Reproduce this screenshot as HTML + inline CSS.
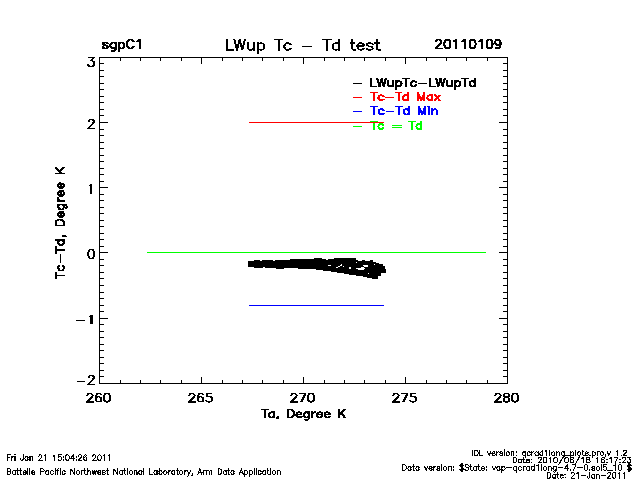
<!DOCTYPE html>
<html><head><meta charset="utf-8"><title>LWup Tc - Td test</title>
<style>
html,body{margin:0;padding:0;background:#fff;}
body{width:640px;height:480px;overflow:hidden;font-family:"Liberation Sans",sans-serif;}
svg{display:block;}
#gl path{vector-effect:non-scaling-stroke;}
</style></head><body>
<svg width="640" height="480" viewBox="0 0 640 480">
<rect width="640" height="480" fill="#fff"/>
<defs><g id="gl" fill="none" stroke-linecap="square" stroke-linejoin="round">
<path id="g36" d="M8 -25 8 4M12 -25 12 4M17 -18 15 -20 12 -21 8 -21 5 -20 3 -18 3 -16 4 -14 5 -13 7 -12 13 -10 15 -9 16 -8 17 -6 17 -3 15 -1 12 0 8 0 5 -1 3 -3"/>
<path id="g44" d="M4 4 5 3 6 1 6 -1 5 -2 4 -1 5 0 6 -1"/>
<path id="g45" d="M4 -9 22 -9"/>
<path id="g46" d="M5 0 4 -1 5 -2 6 -1 5 0"/>
<path id="g47" d="M2 7 16 -18M7 -2 20 -25"/>
<path id="g48" d="M9 0 6 -1 4 -4 3 -9 3 -12 4 -17 6 -20 9 -21 11 -21 14 -20 16 -17 17 -12 17 -9 16 -4 14 -1 11 0 9 0"/>
<path id="g49" d="M6 -17 8 -18 11 -21 11 0"/>
<path id="g50" d="M17 0 3 0 13 -10 15 -13 16 -15 16 -17 15 -19 14 -20 12 -21 8 -21 6 -20 5 -19 4 -17 4 -16"/>
<path id="g51" d="M5 -21 16 -21 10 -13 13 -13 15 -12 16 -11 17 -8 17 -6 16 -3 14 -1 11 0 8 0 5 -1 4 -2 3 -4"/>
<path id="g52" d="M18 -7 3 -7 13 -21 13 0"/>
<path id="g53" d="M3 -4 4 -2 5 -1 8 0 11 0 14 -1 16 -3 17 -6 17 -8 16 -11 14 -13 11 -14 8 -14 5 -13 4 -12 5 -21 15 -21"/>
<path id="g54" d="M4 -7 5 -10 7 -12 10 -13 11 -13 14 -12 16 -10 17 -7 17 -6 16 -3 14 -1 11 0 10 0 7 -1 5 -3 4 -7 4 -12 5 -17 7 -20 10 -21 12 -21 15 -20 16 -18"/>
<path id="g55" d="M7 0 17 -21 3 -21"/>
<path id="g56" d="M15 -1 12 0 8 0 5 -1 4 -2 3 -4 3 -7 4 -9 6 -11 9 -12 13 -13 15 -14 16 -16 16 -18 15 -20 12 -21 8 -21 5 -20 4 -18 4 -16 5 -14 7 -13 11 -12 14 -11 16 -9 17 -7 17 -4 16 -2 15 -1"/>
<path id="g57" d="M4 -3 5 -1 8 0 10 0 13 -1 15 -4 16 -9 16 -14 15 -18 13 -20 10 -21 9 -21 6 -20 4 -18 3 -15 3 -14 4 -11 6 -9 9 -8 10 -8 13 -9 15 -11 16 -14"/>
<path id="g58" d="M5 -12 4 -13 5 -14 6 -13 5 -12M5 0 4 -1 5 -2 6 -1 5 0"/>
<path id="g61" d="M4 -12 22 -12M4 -6 22 -6"/>
<path id="g65" d="M1 0 9 -21 17 0M4 -7 14 -7"/>
<path id="g66" d="M4 -11 13 -11 16 -12 17 -13 18 -15 18 -17 17 -19 16 -20 13 -21 4 -21 4 0 13 0 16 -1 17 -2 18 -4 18 -7 17 -9 16 -10 13 -11"/>
<path id="g67" d="M18 -16 17 -18 15 -20 13 -21 9 -21 7 -20 5 -18 4 -16 3 -13 3 -8 4 -5 5 -3 7 -1 9 0 13 0 15 -1 17 -3 18 -5"/>
<path id="g68" d="M17 -5 18 -8 18 -13 17 -16 16 -18 14 -20 11 -21 4 -21 4 0 11 0 14 -1 16 -3 17 -5"/>
<path id="g70" d="M17 -21 4 -21 4 0M4 -11 12 -11"/>
<path id="g73" d="M4 -21 4 0"/>
<path id="g74" d="M12 -21 12 -5 11 -2 10 -1 8 0 6 0 4 -1 3 -2 2 -5 2 -7"/>
<path id="g75" d="M4 -21 4 0M4 -7 18 -21M9 -12 18 0"/>
<path id="g76" d="M4 -21 4 0 16 0"/>
<path id="g77" d="M4 0 4 -21 12 0 20 -21 20 0"/>
<path id="g78" d="M4 0 4 -21 18 0 18 -21"/>
<path id="g80" d="M4 -10 13 -10 16 -11 17 -12 18 -14 18 -17 17 -19 16 -20 13 -21 4 -21 4 0"/>
<path id="g83" d="M17 -18 15 -20 12 -21 8 -21 5 -20 3 -18 3 -16 4 -14 5 -13 7 -12 13 -10 15 -9 16 -8 17 -6 17 -3 15 -1 12 0 8 0 5 -1 3 -3"/>
<path id="g84" d="M8 -21 8 0M1 -21 15 -21"/>
<path id="g87" d="M2 -21 7 0 12 -21 17 0 22 -21"/>
<path id="g95" d="M1 0 17 0"/>
<path id="g97" d="M15 -14 15 0M15 -3 13 -1 11 0 8 0 6 -1 4 -3 3 -6 3 -8 4 -11 6 -13 8 -14 11 -14 13 -13 15 -11"/>
<path id="g98" d="M4 -21 4 0M4 -11 6 -13 8 -14 11 -14 13 -13 15 -11 16 -8 16 -6 15 -3 13 -1 11 0 8 0 6 -1 4 -3"/>
<path id="g99" d="M15 -3 13 -1 11 0 8 0 6 -1 4 -3 3 -6 3 -8 4 -11 6 -13 8 -14 11 -14 13 -13 15 -11"/>
<path id="g100" d="M15 -21 15 0M15 -3 13 -1 11 0 8 0 6 -1 4 -3 3 -6 3 -8 4 -11 6 -13 8 -14 11 -14 13 -13 15 -11"/>
<path id="g101" d="M13 -13 11 -14 8 -14 6 -13 4 -11 3 -8 15 -8 15 -10 14 -12 13 -13M3 -8 3 -6 4 -3 6 -1 8 0 11 0 13 -1 15 -3"/>
<path id="g102" d="M10 -21 8 -21 6 -20 5 -17 5 0M2 -14 9 -14"/>
<path id="g103" d="M15 -14 15 2 14 5 13 6 11 7 8 7 6 6M15 -3 13 -1 11 0 8 0 6 -1 4 -3 3 -6 3 -8 4 -11 6 -13 8 -14 11 -14 13 -13 15 -11"/>
<path id="g104" d="M4 -21 4 0M4 -10 7 -13 9 -14 12 -14 14 -13 15 -10 15 0"/>
<path id="g105" d="M4 -14 4 0M4 -20 3 -21 4 -22 5 -21 4 -20"/>
<path id="g108" d="M4 -21 4 0"/>
<path id="g109" d="M4 -14 4 0M26 0 26 -10 25 -13 23 -14 20 -14 18 -13 15 -10 15 0M4 -10 7 -13 9 -14 12 -14 14 -13 15 -10"/>
<path id="g110" d="M4 -14 4 0M4 -10 7 -13 9 -14 12 -14 14 -13 15 -10 15 0"/>
<path id="g111" d="M16 -6 15 -3 13 -1 11 0 8 0 6 -1 4 -3 3 -6 3 -8 4 -11 6 -13 8 -14 11 -14 13 -13 15 -11 16 -8 16 -6"/>
<path id="g112" d="M4 -14 4 7M4 -11 6 -13 8 -14 11 -14 13 -13 15 -11 16 -8 16 -6 15 -3 13 -1 11 0 8 0 6 -1 4 -3"/>
<path id="g113" d="M15 -14 15 7M15 -3 13 -1 11 0 8 0 6 -1 4 -3 3 -6 3 -8 4 -11 6 -13 8 -14 11 -14 13 -13 15 -11"/>
<path id="g114" d="M4 -14 4 0M4 -8 5 -11 7 -13 9 -14 12 -14"/>
<path id="g115" d="M14 -11 13 -13 10 -14 7 -14 4 -13 3 -11 4 -9 6 -8 11 -7 13 -6 14 -4 14 -3 13 -1 10 0 7 0 4 -1 3 -3"/>
<path id="g116" d="M5 -21 5 -4 6 -1 8 0 10 0M2 -14 9 -14"/>
<path id="g117" d="M15 -14 15 0M4 -14 4 -4 5 -1 7 0 10 0 12 -1 15 -4"/>
<path id="g118" d="M2 -14 8 0 14 -14"/>
<path id="g119" d="M3 -14 7 0 11 -14 15 0 19 -14"/>
<path id="g120" d="M3 -14 14 0M3 0 14 -14"/>
<path id="g121" d="M2 -14 8 0 14 -14M1 7 2 7 4 6 6 4 8 0"/>
</g></defs>
<g shape-rendering="crispEdges">
<rect x="99" y="57" width="409" height="1" fill="#000"/>
<rect x="99" y="383" width="409" height="1" fill="#000"/>
<rect x="99" y="57" width="1" height="327" fill="#000"/>
<rect x="507" y="57" width="1" height="327" fill="#000"/>
<rect x="99" y="57" width="1" height="7" fill="#000"/>
<rect x="99" y="377" width="1" height="7" fill="#000"/>
<rect x="120" y="57" width="1" height="4" fill="#000"/>
<rect x="120" y="380" width="1" height="4" fill="#000"/>
<rect x="140" y="57" width="1" height="4" fill="#000"/>
<rect x="140" y="380" width="1" height="4" fill="#000"/>
<rect x="160" y="57" width="1" height="4" fill="#000"/>
<rect x="160" y="380" width="1" height="4" fill="#000"/>
<rect x="181" y="57" width="1" height="4" fill="#000"/>
<rect x="181" y="380" width="1" height="4" fill="#000"/>
<rect x="201" y="57" width="1" height="7" fill="#000"/>
<rect x="201" y="377" width="1" height="7" fill="#000"/>
<rect x="222" y="57" width="1" height="4" fill="#000"/>
<rect x="222" y="380" width="1" height="4" fill="#000"/>
<rect x="242" y="57" width="1" height="4" fill="#000"/>
<rect x="242" y="380" width="1" height="4" fill="#000"/>
<rect x="262" y="57" width="1" height="4" fill="#000"/>
<rect x="262" y="380" width="1" height="4" fill="#000"/>
<rect x="283" y="57" width="1" height="4" fill="#000"/>
<rect x="283" y="380" width="1" height="4" fill="#000"/>
<rect x="303" y="57" width="1" height="7" fill="#000"/>
<rect x="303" y="377" width="1" height="7" fill="#000"/>
<rect x="324" y="57" width="1" height="4" fill="#000"/>
<rect x="324" y="380" width="1" height="4" fill="#000"/>
<rect x="344" y="57" width="1" height="4" fill="#000"/>
<rect x="344" y="380" width="1" height="4" fill="#000"/>
<rect x="364" y="57" width="1" height="4" fill="#000"/>
<rect x="364" y="380" width="1" height="4" fill="#000"/>
<rect x="385" y="57" width="1" height="4" fill="#000"/>
<rect x="385" y="380" width="1" height="4" fill="#000"/>
<rect x="405" y="57" width="1" height="7" fill="#000"/>
<rect x="405" y="377" width="1" height="7" fill="#000"/>
<rect x="426" y="57" width="1" height="4" fill="#000"/>
<rect x="426" y="380" width="1" height="4" fill="#000"/>
<rect x="446" y="57" width="1" height="4" fill="#000"/>
<rect x="446" y="380" width="1" height="4" fill="#000"/>
<rect x="466" y="57" width="1" height="4" fill="#000"/>
<rect x="466" y="380" width="1" height="4" fill="#000"/>
<rect x="487" y="57" width="1" height="4" fill="#000"/>
<rect x="487" y="380" width="1" height="4" fill="#000"/>
<rect x="507" y="57" width="1" height="7" fill="#000"/>
<rect x="507" y="377" width="1" height="7" fill="#000"/>
<rect x="99" y="57" width="9" height="1" fill="#000"/>
<rect x="499" y="57" width="9" height="1" fill="#000"/>
<rect x="99" y="63" width="5" height="1" fill="#000"/>
<rect x="503" y="63" width="5" height="1" fill="#000"/>
<rect x="99" y="70" width="5" height="1" fill="#000"/>
<rect x="503" y="70" width="5" height="1" fill="#000"/>
<rect x="99" y="76" width="5" height="1" fill="#000"/>
<rect x="503" y="76" width="5" height="1" fill="#000"/>
<rect x="99" y="83" width="5" height="1" fill="#000"/>
<rect x="503" y="83" width="5" height="1" fill="#000"/>
<rect x="99" y="89" width="5" height="1" fill="#000"/>
<rect x="503" y="89" width="5" height="1" fill="#000"/>
<rect x="99" y="96" width="5" height="1" fill="#000"/>
<rect x="503" y="96" width="5" height="1" fill="#000"/>
<rect x="99" y="102" width="5" height="1" fill="#000"/>
<rect x="503" y="102" width="5" height="1" fill="#000"/>
<rect x="99" y="109" width="5" height="1" fill="#000"/>
<rect x="503" y="109" width="5" height="1" fill="#000"/>
<rect x="99" y="115" width="5" height="1" fill="#000"/>
<rect x="503" y="115" width="5" height="1" fill="#000"/>
<rect x="99" y="122" width="9" height="1" fill="#000"/>
<rect x="499" y="122" width="9" height="1" fill="#000"/>
<rect x="99" y="129" width="5" height="1" fill="#000"/>
<rect x="503" y="129" width="5" height="1" fill="#000"/>
<rect x="99" y="135" width="5" height="1" fill="#000"/>
<rect x="503" y="135" width="5" height="1" fill="#000"/>
<rect x="99" y="142" width="5" height="1" fill="#000"/>
<rect x="503" y="142" width="5" height="1" fill="#000"/>
<rect x="99" y="148" width="5" height="1" fill="#000"/>
<rect x="503" y="148" width="5" height="1" fill="#000"/>
<rect x="99" y="155" width="5" height="1" fill="#000"/>
<rect x="503" y="155" width="5" height="1" fill="#000"/>
<rect x="99" y="161" width="5" height="1" fill="#000"/>
<rect x="503" y="161" width="5" height="1" fill="#000"/>
<rect x="99" y="168" width="5" height="1" fill="#000"/>
<rect x="503" y="168" width="5" height="1" fill="#000"/>
<rect x="99" y="174" width="5" height="1" fill="#000"/>
<rect x="503" y="174" width="5" height="1" fill="#000"/>
<rect x="99" y="181" width="5" height="1" fill="#000"/>
<rect x="503" y="181" width="5" height="1" fill="#000"/>
<rect x="99" y="187" width="9" height="1" fill="#000"/>
<rect x="499" y="187" width="9" height="1" fill="#000"/>
<rect x="99" y="194" width="5" height="1" fill="#000"/>
<rect x="503" y="194" width="5" height="1" fill="#000"/>
<rect x="99" y="200" width="5" height="1" fill="#000"/>
<rect x="503" y="200" width="5" height="1" fill="#000"/>
<rect x="99" y="207" width="5" height="1" fill="#000"/>
<rect x="503" y="207" width="5" height="1" fill="#000"/>
<rect x="99" y="213" width="5" height="1" fill="#000"/>
<rect x="503" y="213" width="5" height="1" fill="#000"/>
<rect x="99" y="220" width="5" height="1" fill="#000"/>
<rect x="503" y="220" width="5" height="1" fill="#000"/>
<rect x="99" y="226" width="5" height="1" fill="#000"/>
<rect x="503" y="226" width="5" height="1" fill="#000"/>
<rect x="99" y="233" width="5" height="1" fill="#000"/>
<rect x="503" y="233" width="5" height="1" fill="#000"/>
<rect x="99" y="239" width="5" height="1" fill="#000"/>
<rect x="503" y="239" width="5" height="1" fill="#000"/>
<rect x="99" y="246" width="5" height="1" fill="#000"/>
<rect x="503" y="246" width="5" height="1" fill="#000"/>
<rect x="99" y="252" width="9" height="1" fill="#000"/>
<rect x="499" y="252" width="9" height="1" fill="#000"/>
<rect x="99" y="259" width="5" height="1" fill="#000"/>
<rect x="503" y="259" width="5" height="1" fill="#000"/>
<rect x="99" y="265" width="5" height="1" fill="#000"/>
<rect x="503" y="265" width="5" height="1" fill="#000"/>
<rect x="99" y="272" width="5" height="1" fill="#000"/>
<rect x="503" y="272" width="5" height="1" fill="#000"/>
<rect x="99" y="278" width="5" height="1" fill="#000"/>
<rect x="503" y="278" width="5" height="1" fill="#000"/>
<rect x="99" y="285" width="5" height="1" fill="#000"/>
<rect x="503" y="285" width="5" height="1" fill="#000"/>
<rect x="99" y="292" width="5" height="1" fill="#000"/>
<rect x="503" y="292" width="5" height="1" fill="#000"/>
<rect x="99" y="298" width="5" height="1" fill="#000"/>
<rect x="503" y="298" width="5" height="1" fill="#000"/>
<rect x="99" y="305" width="5" height="1" fill="#000"/>
<rect x="503" y="305" width="5" height="1" fill="#000"/>
<rect x="99" y="311" width="5" height="1" fill="#000"/>
<rect x="503" y="311" width="5" height="1" fill="#000"/>
<rect x="99" y="318" width="9" height="1" fill="#000"/>
<rect x="499" y="318" width="9" height="1" fill="#000"/>
<rect x="99" y="324" width="5" height="1" fill="#000"/>
<rect x="503" y="324" width="5" height="1" fill="#000"/>
<rect x="99" y="331" width="5" height="1" fill="#000"/>
<rect x="503" y="331" width="5" height="1" fill="#000"/>
<rect x="99" y="337" width="5" height="1" fill="#000"/>
<rect x="503" y="337" width="5" height="1" fill="#000"/>
<rect x="99" y="344" width="5" height="1" fill="#000"/>
<rect x="503" y="344" width="5" height="1" fill="#000"/>
<rect x="99" y="350" width="5" height="1" fill="#000"/>
<rect x="503" y="350" width="5" height="1" fill="#000"/>
<rect x="99" y="357" width="5" height="1" fill="#000"/>
<rect x="503" y="357" width="5" height="1" fill="#000"/>
<rect x="99" y="363" width="5" height="1" fill="#000"/>
<rect x="503" y="363" width="5" height="1" fill="#000"/>
<rect x="99" y="370" width="5" height="1" fill="#000"/>
<rect x="503" y="370" width="5" height="1" fill="#000"/>
<rect x="99" y="376" width="5" height="1" fill="#000"/>
<rect x="503" y="376" width="5" height="1" fill="#000"/>
<rect x="99" y="383" width="9" height="1" fill="#000"/>
<rect x="499" y="383" width="9" height="1" fill="#000"/>
</g>
<g>
<rect x="147" y="252" width="339" height="1" fill="#0f0"/>
<rect x="249" y="305" width="135" height="1" fill="#00f"/>
<path d="M248 261 L249 261 L249 261 L250 261 L250 261 L251 261 L251 261 L252 261 L252 261 L253 261 L253 261 L254 261 L254 260 L255 260 L255 260 L256 260 L256 260 L257 260 L257 260 L258 260 L258 260 L259 260 L259 260 L260 260 L260 261 L261 261 L261 261 L262 261 L262 260 L263 260 L263 260 L264 260 L264 260 L265 260 L265 260 L266 260 L266 260 L267 260 L267 260 L268 260 L268 260 L269 260 L269 260 L270 260 L270 260 L271 260 L271 260 L272 260 L272 260 L273 260 L273 261 L274 261 L274 261 L275 261 L275 260 L276 260 L276 260 L277 260 L277 260 L278 260 L278 260 L279 260 L279 260 L280 260 L280 260 L281 260 L281 260 L282 260 L282 260 L283 260 L283 260 L284 260 L284 260 L285 260 L285 260 L286 260 L286 260 L287 260 L287 260 L288 260 L288 260 L289 260 L289 260 L290 260 L290 259 L291 259 L291 259 L292 259 L292 259 L293 259 L293 259 L294 259 L294 259 L295 259 L295 259 L296 259 L296 259 L297 259 L297 259 L298 259 L298 259 L299 259 L299 259 L300 259 L300 259 L301 259 L301 259 L302 259 L302 259 L303 259 L303 259 L304 259 L304 259 L305 259 L305 259 L306 259 L306 259 L307 259 L307 259 L308 259 L308 259 L309 259 L309 259 L310 259 L310 259 L311 259 L311 259 L312 259 L312 259 L313 259 L313 259 L314 259 L314 258 L315 258 L315 258 L316 258 L316 258 L317 258 L317 258 L318 258 L318 258 L319 258 L319 258 L320 258 L320 258 L321 258 L321 258 L322 258 L322 259 L323 259 L323 259 L324 259 L324 259 L325 259 L325 259 L326 259 L326 260 L327 260 L327 260 L328 260 L328 259 L329 259 L329 259 L330 259 L330 259 L331 259 L331 259 L332 259 L332 259 L333 259 L333 259 L334 259 L334 258 L335 258 L335 258 L336 258 L336 258 L337 258 L337 258 L338 258 L338 258 L339 258 L339 258 L340 258 L340 258 L341 258 L341 258 L342 258 L342 258 L343 258 L343 258 L344 258 L344 258 L345 258 L345 258 L346 258 L346 258 L347 258 L347 258 L348 258 L348 258 L349 258 L349 258 L350 258 L350 258 L351 258 L351 258 L352 258 L352 258 L353 258 L353 258 L354 258 L354 258 L355 258 L355 258 L356 258 L356 260 L357 260 L357 260 L358 260 L358 261 L359 261 L359 261 L360 261 L360 261 L361 261 L361 261 L362 261 L362 260 L363 260 L363 260 L364 260 L364 260 L365 260 L365 261 L366 261 L366 261 L367 261 L367 261 L368 261 L368 261 L369 261 L369 261 L370 261 L370 260 L371 260 L371 260 L372 260 L372 260 L373 260 L373 262 L374 262 L374 262 L375 262 L375 262 L376 262 L376 263 L377 263 L377 263 L378 263 L378 263 L379 263 L379 264 L380 264 L380 264 L381 264 L381 264 L382 264 L382 264 L383 264 L383 266 L384 266 L384 266 L385 266 L385 269 L386 269 L386 273 L385 273 L385 273 L384 273 L384 273 L383 273 L383 273 L382 273 L382 273 L381 273 L381 276 L380 276 L380 276 L379 276 L379 276 L378 276 L378 279 L377 279 L377 279 L376 279 L376 279 L375 279 L375 279 L374 279 L374 279 L373 279 L373 279 L372 279 L372 278 L371 278 L371 278 L370 278 L370 278 L369 278 L369 278 L368 278 L368 278 L367 278 L367 277 L366 277 L366 277 L365 277 L365 277 L364 277 L364 277 L363 277 L363 276 L362 276 L362 276 L361 276 L361 276 L360 276 L360 276 L359 276 L359 276 L358 276 L358 276 L357 276 L357 276 L356 276 L356 275 L355 275 L355 275 L354 275 L354 275 L353 275 L353 275 L352 275 L352 275 L351 275 L351 275 L350 275 L350 275 L349 275 L349 274 L348 274 L348 274 L347 274 L347 274 L346 274 L346 274 L345 274 L345 274 L344 274 L344 273 L343 273 L343 273 L342 273 L342 273 L341 273 L341 273 L340 273 L340 273 L339 273 L339 273 L338 273 L338 273 L337 273 L337 272 L336 272 L336 272 L335 272 L335 272 L334 272 L334 272 L333 272 L333 272 L332 272 L332 272 L331 272 L331 271 L330 271 L330 271 L329 271 L329 271 L328 271 L328 271 L327 271 L327 271 L326 271 L326 271 L325 271 L325 271 L324 271 L324 271 L323 271 L323 270 L322 270 L322 270 L321 270 L321 270 L320 270 L320 270 L319 270 L319 270 L318 270 L318 270 L317 270 L317 270 L316 270 L316 269 L315 269 L315 269 L314 269 L314 269 L313 269 L313 269 L312 269 L312 269 L311 269 L311 269 L310 269 L310 269 L309 269 L309 269 L308 269 L308 269 L307 269 L307 269 L306 269 L306 269 L305 269 L305 269 L304 269 L304 269 L303 269 L303 269 L302 269 L302 269 L301 269 L301 269 L300 269 L300 269 L299 269 L299 269 L298 269 L298 268 L297 268 L297 268 L296 268 L296 268 L295 268 L295 268 L294 268 L294 268 L293 268 L293 268 L292 268 L292 268 L291 268 L291 268 L290 268 L290 268 L289 268 L289 268 L288 268 L288 268 L287 268 L287 268 L286 268 L286 268 L285 268 L285 268 L284 268 L284 269 L283 269 L283 269 L282 269 L282 269 L281 269 L281 269 L280 269 L280 269 L279 269 L279 269 L278 269 L278 269 L277 269 L277 269 L276 269 L276 268 L275 268 L275 268 L274 268 L274 268 L273 268 L273 268 L272 268 L272 268 L271 268 L271 268 L270 268 L270 268 L269 268 L269 268 L268 268 L268 268 L267 268 L267 268 L266 268 L266 268 L265 268 L265 267 L264 267 L264 267 L263 267 L263 268 L262 268 L262 268 L261 268 L261 268 L260 268 L260 268 L259 268 L259 268 L258 268 L258 268 L257 268 L257 268 L256 268 L256 268 L255 268 L255 268 L254 268 L254 267 L253 267 L253 267 L252 267 L252 267 L251 267 L251 267 L250 267 L250 267 L249 267 L249 267 L248 267 Z" fill="#000"/>
<g fill="#fff"><rect x="328" y="265" width="3" height="1"/><rect x="336" y="267" width="2" height="1"/><rect x="338" y="266" width="2" height="1"/><rect x="340" y="265" width="2" height="1"/><rect x="341" y="264" width="1" height="1"/><rect x="343" y="266" width="1" height="1"/><rect x="349" y="267" width="2" height="2"/><rect x="356" y="268" width="9" height="1"/><rect x="358" y="269" width="6" height="1"/><rect x="361" y="267" width="3" height="1"/><rect x="363" y="265" width="5" height="1"/><rect x="364" y="266" width="4" height="1"/><rect x="356" y="262" width="1" height="1"/><rect x="374" y="264" width="1" height="1"/><rect x="368" y="273" width="1" height="1"/></g>
<rect x="392" y="125" width="10" height="1" fill="#0f0"/><rect x="392" y="127" width="10" height="1" fill="#0f0"/>
</g>
<g fill="none" stroke="#000" stroke-width="1.02" stroke-linecap="square" stroke-linejoin="round" shape-rendering="crispEdges">
<g><g id="t1" transform="translate(223.91 50) scale(0.5257 0.5)"><use href="#g76" x="0"/><use href="#g87" x="17"/><use href="#g117" x="41"/><use href="#g112" x="60"/><use href="#g84" x="95"/><use href="#g99" x="111"/><use href="#g84" x="187"/><use href="#g100" x="203"/><use href="#g116" x="238"/><use href="#g101" x="250"/><use href="#g115" x="268"/><use href="#g116" x="285"/></g><use href="#t1" x="1"/><g transform="translate(0 0.6) translate(223.91 50) scale(0.5257 0.5)"><use href="#g45" x="145"/></g></g>
<g><g id="t2" transform="translate(100.99 48.09) scale(0.439 0.4133)"><use href="#g115" x="0"/><use href="#g103" x="17"/><use href="#g112" x="36"/><use href="#g67" x="55"/><use href="#g49" x="76"/></g><use href="#t2" x="1"/><use href="#t2" y="0.5"/><use href="#t2" x="1" y="0.5"/></g>
<g><g id="t3" transform="translate(434.04 48.09) scale(0.4234 0.4133)"><use href="#g50" x="0"/><use href="#g48" x="20"/><use href="#g49" x="40"/><use href="#g49" x="60"/><use href="#g48" x="80"/><use href="#g49" x="100"/><use href="#g48" x="120"/><use href="#g57" x="140"/></g><use href="#t3" x="1"/><use href="#t3" y="0.5"/><use href="#t3" x="1" y="0.5"/></g>
<g><g id="t4" transform="translate(368.82 86.09) scale(0.4236 0.3657)"><use href="#g76" x="0"/><use href="#g87" x="17"/><use href="#g117" x="41"/><use href="#g112" x="60"/><use href="#g84" x="79"/><use href="#g99" x="95"/><use href="#g76" x="139"/><use href="#g87" x="156"/><use href="#g117" x="180"/><use href="#g112" x="199"/><use href="#g84" x="218"/><use href="#g100" x="234"/></g><use href="#t4" x="1"/><use href="#t4" y="0.5"/><use href="#t4" x="1" y="0.5"/><g transform="translate(0 0.6) translate(368.82 86.09) scale(0.4236 0.3657)"><use href="#g45" x="113"/></g></g>
<g stroke="#f00"><g id="t5" transform="translate(370.1 100.09) scale(0.4113 0.3657)"><use href="#g84" x="0"/><use href="#g99" x="16"/><use href="#g84" x="60"/><use href="#g100" x="76"/><use href="#g77" x="111"/><use href="#g97" x="135"/><use href="#g120" x="154"/></g><use href="#t5" x="1"/><use href="#t5" y="0.5"/><use href="#t5" x="1" y="0.5"/><g transform="translate(0 0.6) translate(370.1 100.09) scale(0.4113 0.3657)"><use href="#g45" x="34"/></g></g>
<g stroke="#00f"><g id="t6" transform="translate(370.09 114.09) scale(0.419 0.3657)"><use href="#g84" x="0"/><use href="#g99" x="16"/><use href="#g84" x="60"/><use href="#g100" x="76"/><use href="#g77" x="111"/><use href="#g105" x="135"/><use href="#g110" x="143"/></g><use href="#t6" x="1"/><use href="#t6" y="0.5"/><use href="#t6" x="1" y="0.5"/><g transform="translate(0 0.6) translate(370.09 114.09) scale(0.419 0.3657)"><use href="#g45" x="34"/></g></g>
<g stroke="#0f0"><g id="t7" transform="translate(370.1 128.89) scale(0.413 0.3657)"><use href="#g84" x="0"/><use href="#g99" x="16"/><use href="#g84" x="92"/><use href="#g100" x="108"/></g><use href="#t7" x="1"/><use href="#t7" y="0.5"/><use href="#t7" x="1" y="0.5"/></g>
<g><g id="t8" transform="translate(260.8 417.19) scale(0.4133 0.3705)"><use href="#g84" x="0"/><use href="#g97" x="16"/><use href="#g44" x="35"/><use href="#g68" x="61"/><use href="#g101" x="82"/><use href="#g103" x="100"/><use href="#g114" x="119"/><use href="#g101" x="132"/><use href="#g101" x="150"/><use href="#g75" x="184"/></g><use href="#t8" x="1"/><use href="#t8" y="0.5"/><use href="#t8" x="1" y="0.5"/></g>
<g><g id="t9" transform="translate(63.29 278.41) rotate(-90) scale(0.4241 0.3895)"><use href="#g84" x="0"/><use href="#g99" x="16"/><use href="#g84" x="60"/><use href="#g100" x="76"/><use href="#g44" x="95"/><use href="#g68" x="121"/><use href="#g101" x="142"/><use href="#g103" x="160"/><use href="#g114" x="179"/><use href="#g101" x="192"/><use href="#g101" x="210"/><use href="#g75" x="244"/></g><use href="#t9" x="1"/><use href="#t9" y="0.5"/><use href="#t9" x="1" y="0.5"/><g transform="translate(0.6 0) translate(63.29 278.41) rotate(-90) scale(0.4241 0.3895)"><use href="#g45" x="34"/></g></g>
<g><g id="t10" transform="translate(85.22 402) scale(0.426 0.4048)"><use href="#g50" x="0"/><use href="#g54" x="20"/><use href="#g48" x="40"/></g><use href="#t10" x="1"/></g>
<g><g id="t11" transform="translate(187.22 402) scale(0.426 0.4048)"><use href="#g50" x="0"/><use href="#g54" x="20"/><use href="#g53" x="40"/></g><use href="#t11" x="1"/></g>
<g><g id="t12" transform="translate(289.22 402) scale(0.426 0.4048)"><use href="#g50" x="0"/><use href="#g55" x="20"/><use href="#g48" x="40"/></g><use href="#t12" x="1"/></g>
<g><g id="t13" transform="translate(391.22 402) scale(0.426 0.4048)"><use href="#g50" x="0"/><use href="#g55" x="20"/><use href="#g53" x="40"/></g><use href="#t13" x="1"/></g>
<g><g id="t14" transform="translate(493.22 402) scale(0.426 0.4048)"><use href="#g50" x="0"/><use href="#g56" x="20"/><use href="#g48" x="40"/></g><use href="#t14" x="1"/></g>
<g><g id="t15" transform="translate(86.45 66.59) scale(0.426 0.4371)"><use href="#g51" x="0"/></g><use href="#t15" x="1"/></g>
<g><g id="t16" transform="translate(86.45 128.59) scale(0.426 0.4371)"><use href="#g50" x="0"/></g><use href="#t16" x="1"/></g>
<g><g id="t17" transform="translate(86.3 192.99) scale(0.426 0.4086)"><use href="#g49" x="0"/></g><use href="#t17" x="1"/></g>
<g><g id="t18" transform="translate(86.45 258.59) scale(0.426 0.4371)"><use href="#g48" x="0"/></g><use href="#t18" x="1"/></g>
<g><g id="t19" transform="translate(75.23 323.79) scale(0.426 0.399)"><use href="#g49" x="26"/></g><use href="#t19" x="1"/><g transform="translate(0 0.6) translate(75.23 323.79) scale(0.426 0.399)"><use href="#g45" x="0"/></g></g>
<g><g id="t20" transform="translate(75.37 384.59) scale(0.426 0.4371)"><use href="#g50" x="26"/></g><use href="#t20" x="1"/><g transform="translate(0 0.6) translate(75.37 384.59) scale(0.426 0.4371)"><use href="#g45" x="0"/></g></g>
<g><g id="t21" transform="translate(6.09 460.39) scale(0.2544 0.2657)"><use href="#g70" x="0"/><use href="#g114" x="18"/><use href="#g105" x="31"/><use href="#g74" x="55"/><use href="#g97" x="71"/><use href="#g110" x="90"/><use href="#g50" x="125"/><use href="#g49" x="145"/><use href="#g49" x="181"/><use href="#g53" x="201"/><use href="#g58" x="221"/><use href="#g48" x="231"/><use href="#g52" x="251"/><use href="#g58" x="271"/><use href="#g50" x="281"/><use href="#g54" x="301"/><use href="#g50" x="337"/><use href="#g48" x="357"/><use href="#g49" x="377"/><use href="#g49" x="397"/></g></g>
<g><g id="t22" transform="translate(6.1 474.39) scale(0.2532 0.2657)"><use href="#g66" x="0"/><use href="#g97" x="21"/><use href="#g116" x="40"/><use href="#g116" x="52"/><use href="#g101" x="64"/><use href="#g108" x="82"/><use href="#g108" x="90"/><use href="#g101" x="98"/><use href="#g80" x="132"/><use href="#g97" x="153"/><use href="#g99" x="172"/><use href="#g105" x="190"/><use href="#g102" x="198"/><use href="#g105" x="210"/><use href="#g99" x="218"/><use href="#g78" x="252"/><use href="#g111" x="274"/><use href="#g114" x="293"/><use href="#g116" x="306"/><use href="#g104" x="318"/><use href="#g119" x="337"/><use href="#g101" x="359"/><use href="#g115" x="377"/><use href="#g116" x="394"/><use href="#g78" x="422"/><use href="#g97" x="444"/><use href="#g116" x="463"/><use href="#g105" x="475"/><use href="#g111" x="483"/><use href="#g110" x="502"/><use href="#g97" x="521"/><use href="#g108" x="540"/><use href="#g76" x="564"/><use href="#g97" x="581"/><use href="#g98" x="600"/><use href="#g111" x="619"/><use href="#g114" x="638"/><use href="#g97" x="651"/><use href="#g116" x="670"/><use href="#g111" x="682"/><use href="#g114" x="701"/><use href="#g121" x="714"/><use href="#g44" x="730"/><use href="#g65" x="756"/><use href="#g114" x="774"/><use href="#g109" x="787"/><use href="#g68" x="833"/><use href="#g97" x="854"/><use href="#g116" x="873"/><use href="#g97" x="885"/><use href="#g65" x="920"/><use href="#g112" x="938"/><use href="#g112" x="957"/><use href="#g108" x="976"/><use href="#g105" x="984"/><use href="#g99" x="992"/><use href="#g97" x="1010"/><use href="#g116" x="1029"/><use href="#g105" x="1041"/><use href="#g111" x="1049"/><use href="#g110" x="1068"/></g></g>
<g><g id="t23" transform="translate(471.5 455.49) scale(0.2529 0.2562)"><use href="#g73" x="0"/><use href="#g68" x="8"/><use href="#g76" x="29"/><use href="#g118" x="62"/><use href="#g101" x="78"/><use href="#g114" x="96"/><use href="#g115" x="109"/><use href="#g105" x="126"/><use href="#g111" x="134"/><use href="#g110" x="153"/><use href="#g58" x="172"/><use href="#g113" x="198"/><use href="#g99" x="217"/><use href="#g114" x="235"/><use href="#g97" x="248"/><use href="#g100" x="267"/><use href="#g49" x="286"/><use href="#g108" x="306"/><use href="#g111" x="314"/><use href="#g110" x="333"/><use href="#g103" x="352"/><use href="#g95" x="371"/><use href="#g112" x="389"/><use href="#g108" x="408"/><use href="#g111" x="416"/><use href="#g116" x="435"/><use href="#g115" x="447"/><use href="#g46" x="464"/><use href="#g112" x="474"/><use href="#g114" x="493"/><use href="#g111" x="506"/><use href="#g44" x="525"/><use href="#g118" x="535"/><use href="#g49" x="567"/><use href="#g46" x="587"/><use href="#g50" x="597"/></g></g>
<g><g id="t24" transform="translate(511.96 462.89) scale(0.2628 0.2657)"><use href="#g68" x="0"/><use href="#g97" x="21"/><use href="#g116" x="40"/><use href="#g101" x="52"/><use href="#g58" x="70"/><use href="#g50" x="96"/><use href="#g48" x="116"/><use href="#g49" x="136"/><use href="#g48" x="156"/><use href="#g47" x="176"/><use href="#g48" x="198"/><use href="#g54" x="218"/><use href="#g47" x="238"/><use href="#g49" x="260"/><use href="#g56" x="280"/><use href="#g49" x="316"/><use href="#g54" x="336"/><use href="#g58" x="356"/><use href="#g49" x="366"/><use href="#g55" x="386"/><use href="#g58" x="406"/><use href="#g50" x="416"/><use href="#g51" x="436"/></g></g>
<g><g id="t25" transform="translate(401.68 470.29) scale(0.2578 0.2657)"><use href="#g68" x="0"/><use href="#g97" x="21"/><use href="#g116" x="40"/><use href="#g97" x="52"/><use href="#g118" x="87"/><use href="#g101" x="103"/><use href="#g114" x="121"/><use href="#g115" x="134"/><use href="#g105" x="151"/><use href="#g111" x="159"/><use href="#g110" x="178"/><use href="#g58" x="197"/><use href="#g36" x="223"/><use href="#g83" x="243"/><use href="#g116" x="263"/><use href="#g97" x="275"/><use href="#g116" x="294"/><use href="#g101" x="306"/><use href="#g58" x="324"/><use href="#g118" x="350"/><use href="#g97" x="366"/><use href="#g112" x="385"/><use href="#g45" x="404"/><use href="#g113" x="430"/><use href="#g99" x="449"/><use href="#g114" x="467"/><use href="#g97" x="480"/><use href="#g100" x="499"/><use href="#g49" x="518"/><use href="#g108" x="538"/><use href="#g111" x="546"/><use href="#g110" x="565"/><use href="#g103" x="584"/><use href="#g45" x="603"/><use href="#g52" x="629"/><use href="#g46" x="649"/><use href="#g55" x="659"/><use href="#g45" x="679"/><use href="#g48" x="705"/><use href="#g46" x="725"/><use href="#g115" x="735"/><use href="#g111" x="752"/><use href="#g108" x="771"/><use href="#g53" x="779"/><use href="#g95" x="799"/><use href="#g49" x="817"/><use href="#g48" x="837"/><use href="#g36" x="873"/></g></g>
<g><g id="t26" transform="translate(546.51 478.09) scale(0.2488 0.2657)"><use href="#g68" x="0"/><use href="#g97" x="21"/><use href="#g116" x="40"/><use href="#g101" x="52"/><use href="#g58" x="70"/><use href="#g50" x="96"/><use href="#g49" x="116"/><use href="#g45" x="136"/><use href="#g74" x="162"/><use href="#g97" x="178"/><use href="#g110" x="197"/><use href="#g45" x="216"/><use href="#g50" x="242"/><use href="#g48" x="262"/><use href="#g49" x="282"/><use href="#g49" x="302"/></g></g>
<rect x="353" y="82.7" width="9" height="1.4" fill="#000" stroke="none"/>
<rect x="353" y="96.7" width="9" height="1.4" fill="#f00" stroke="none"/>
<rect x="353" y="110.7" width="9" height="1.4" fill="#00f" stroke="none"/>
<rect x="353" y="125.7" width="9" height="1.4" fill="#0f0" stroke="none"/>
</g>
<g shape-rendering="crispEdges"><rect x="249" y="122" width="135" height="1" fill="#f00"/></g>
</svg>
</body></html>
